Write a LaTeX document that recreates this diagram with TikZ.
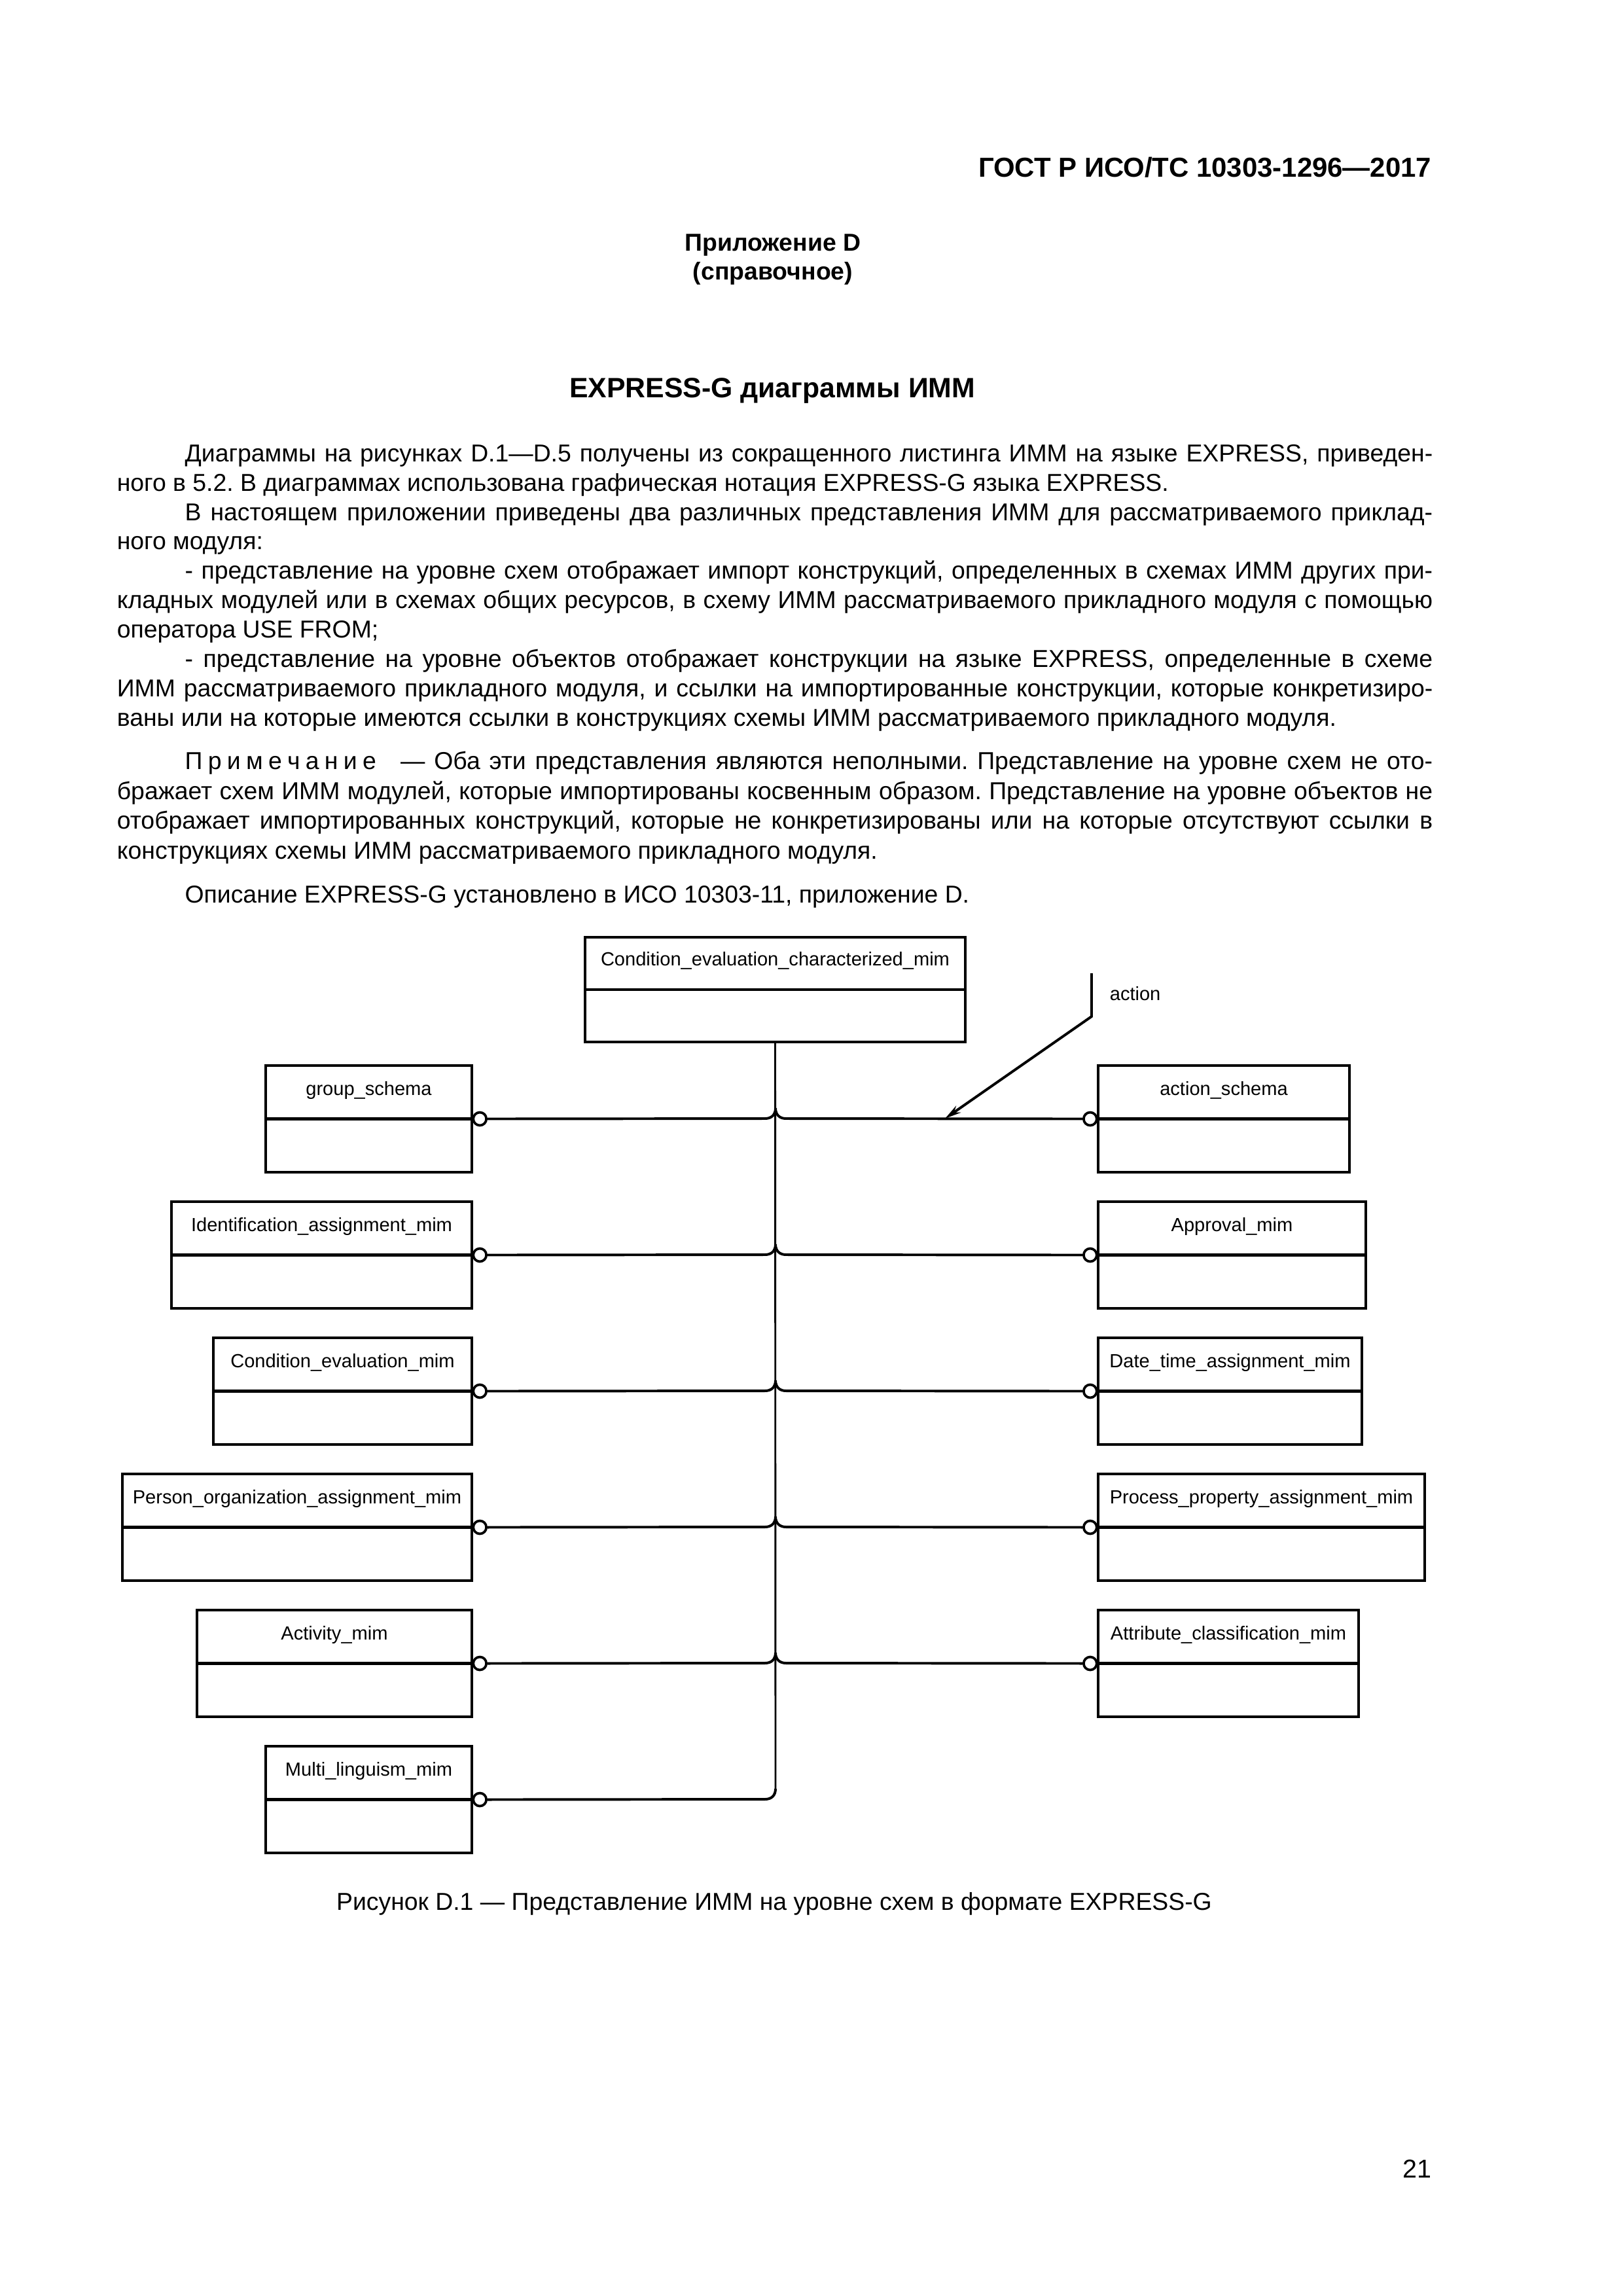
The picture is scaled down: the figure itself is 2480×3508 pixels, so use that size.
\documentclass[tikz,border=0pt]{standalone}
\usepackage{fontspec}
\setmainfont{Liberation Sans}
\frenchspacing
\usetikzlibrary{arrows.meta,calc,fit}

\tikzset{
  schemabox/.style={draw, line width=1.05pt, inner sep=0pt},
  divider/.style={line width=1.05pt},
  boxlabel/.style={anchor=base, inner sep=0pt, font=\fontsize{7pt}{8pt}\selectfont},
  ring/.style={draw, circle, line width=0.9pt, fill=white, minimum size=4.8pt, inner sep=0pt},
  link/.style={line width=0.95pt},
  trunkline/.style={line width=0.7pt},
  bodytext/.style={anchor=base west, inner sep=0pt, text width=484.3pt, align=justify},
  linehop/.style={insert path={-- ($(#1)+(-16,0)$) .. controls ($(#1)+(-6,0)$) and ($(#1)+(0,-6)$) .. ($(#1)+(0,-16)$) .. controls ($(#1)+(0,-6)$) and ($(#1)+(6,0)$) .. ($(#1)+(16,0)$)}}
}

\begin{document}
\begin{tikzpicture}[x=0.0846774mm, y=-0.0846774mm]
    \useasboundingbox[fill=white] (0,0) rectangle (2480,3508);
    % page head and text
    \node[anchor=base east, inner sep=0pt, font=\fontsize{10.1pt}{11pt}\selectfont\bfseries] (head) at (2188,270) {ГОСТ Р ИСО/ТС 10303-1296—2017};
    \node[anchor=base, inner sep=0pt, font=\fontsize{9pt}{10pt}\selectfont\bfseries] (annex) at (1181,383) {Приложение D};
    \node[anchor=base, inner sep=0pt, font=\fontsize{9pt}{10pt}\selectfont\bfseries] (annexkind) at (1181,427) {(справочное)};
    \node[anchor=base, inner sep=0pt, font=\fontsize{10.3pt}{12pt}\selectfont\bfseries] (title) at (1180,607) {EXPRESS-G диаграммы ИММ};
    \node[bodytext, font=\fontsize{9pt}{10.84pt}\selectfont] (intro) at (178,705) {\tolerance=9999\hyphenpenalty=10000
      \hspace*{25pt}Диаграммы на рисунках D.1—D.5 получены из сокращенного листинга ИММ на языке EXPRESS, приведен-\linebreak ного в 5.2. В диаграммах использована графическая нотация EXPRESS-G языка EXPRESS.\par
      \hspace*{25pt}В настоящем приложении приведены два различных представления ИММ для рассматриваемого приклад-\linebreak ного модуля:\par
      \hspace*{25pt}- представление на уровне схем отображает импорт конструкций, определенных в схемах ИММ других при-\linebreak кладных модулей или в схемах общих ресурсов, в схему ИММ рассматриваемого прикладного модуля с помощью \linebreak оператора USE FROM;\par
      \hspace*{25pt}- представление на уровне объектов отображает конструкции на языке EXPRESS, определенные в схеме \linebreak ИММ рассматриваемого прикладного модуля, и ссылки на импортированные конструкции, которые конкретизиро-\linebreak ваны или на которые имеются ссылки в конструкциях схемы ИММ рассматриваемого прикладного модуля.};
    \node[bodytext, font=\fontsize{9pt}{11.08pt}\selectfont] (note) at (178,1175) {\tolerance=9999\hyphenpenalty=10000
      \hspace*{25pt}П\kern2pt р\kern2pt и\kern2pt м\kern2pt е\kern2pt ч\kern2pt а\kern2pt н\kern2pt и\kern2pt е\hspace{9pt}— Оба эти представления являются неполными. Представление на уровне схем не ото-\linebreak бражает схем ИММ модулей, которые импортированы косвенным образом. Представление на уровне объектов не \linebreak отображает импортированных конструкций, которые не конкретизированы или на которые отсутствуют ссылки в \linebreak конструкциях схемы ИММ рассматриваемого прикладного модуля.};
    \node[bodytext, font=\fontsize{9pt}{10.84pt}\selectfont] (ref) at (178,1379) {\hspace*{25pt}Описание EXPRESS-G установлено в ИСО 10303-11, приложение D.};

    % rows of the schema level diagram
    \coordinate (r1) at (1185,1709);
    \coordinate (r2) at (1185,1917);
    \coordinate (r3) at (1185,2125);
    \coordinate (r4) at (1185,2333);
    \coordinate (r5) at (1185,2541);
    \coordinate (r6) at (1185,2749);

    % main schema
    \node[schemabox, fit={(894,1432) (1475,1592)}] (cecm) {};
    \draw[divider] (cecm.west) -- (cecm.east);
    \node[boxlabel] (cecml) at ($(cecm.north)+(0,46)$) {Condition\_evaluation\_characterized\_mim};

    % left column
    \node[schemabox, fit={(406,1628) (721,1791)}] (grp) {};
    \node[schemabox, fit={(262,1836) (721,1999)}] (iam) {};
    \node[schemabox, fit={(326,2044) (721,2207)}] (cem) {};
    \node[schemabox, fit={(187,2252) (721,2415)}] (poam) {};
    \node[schemabox, fit={(301,2460) (721,2623)}] (actm) {};
    \node[schemabox, fit={(406,2668) (721,2831)}] (mlm) {};
    \draw[divider] (grp.west) -- (grp.east);
    \draw[divider] (iam.west) -- (iam.east);
    \draw[divider] (cem.west) -- (cem.east);
    \draw[divider] (poam.west) -- (poam.east);
    \draw[divider] (actm.west) -- (actm.east);
    \draw[divider] (mlm.west) -- (mlm.east);
    \node[boxlabel] at ($(grp.north)+(0,48)$) {group\_schema};
    \node[boxlabel] at ($(iam.north)+(0,48)$) {Identification\_assignment\_mim};
    \node[boxlabel] at ($(cem.north)+(0,48)$) {Condition\_evaluation\_mim};
    \node[boxlabel] at ($(poam.north)+(0,48)$) {Person\_organization\_assignment\_mim};
    \node[boxlabel] at ($(actm.north)+(0,48)$) {Activity\_mim};
    \node[boxlabel] at ($(mlm.north)+(0,48)$) {Multi\_linguism\_mim};
    \node[ring] (grpc) at ($(grp.east)+(10,0)$) {};
    \node[ring] (iamc) at ($(iam.east)+(10,0)$) {};
    \node[ring] (cemc) at ($(cem.east)+(10,0)$) {};
    \node[ring] (poamc) at ($(poam.east)+(10,0)$) {};
    \node[ring] (actmc) at ($(actm.east)+(10,0)$) {};
    \node[ring] (mlmc) at ($(mlm.east)+(10,0)$) {};

    % right column
    \node[schemabox, fit={(1678,1628) (2062,1791)}] (acs) {};
    \node[schemabox, fit={(1678,1836) (2087,1999)}] (apm) {};
    \node[schemabox, fit={(1678,2044) (2081,2207)}] (dtam) {};
    \node[schemabox, fit={(1678,2252) (2177,2415)}] (ppam) {};
    \node[schemabox, fit={(1678,2460) (2076,2623)}] (acm) {};
    \draw[divider] (acs.west) -- (acs.east);
    \draw[divider] (apm.west) -- (apm.east);
    \draw[divider] (dtam.west) -- (dtam.east);
    \draw[divider] (ppam.west) -- (ppam.east);
    \draw[divider] (acm.west) -- (acm.east);
    \node[boxlabel] at ($(acs.north)+(0,48)$) {action\_schema};
    \node[boxlabel] at ($(apm.north)+(0,48)$) {Approval\_mim};
    \node[boxlabel] at ($(dtam.north)+(0,48)$) {Date\_time\_assignment\_mim};
    \node[boxlabel] at ($(ppam.north)+(0,48)$) {Process\_property\_assignment\_mim};
    \node[boxlabel] at ($(acm.north)+(0,48)$) {Attribute\_classification\_mim};
    \node[ring] (acsc) at ($(acs.west)+(-10,0)$) {};
    \node[ring] (apmc) at ($(apm.west)+(-10,0)$) {};
    \node[ring] (dtamc) at ($(dtam.west)+(-10,0)$) {};
    \node[ring] (ppamc) at ($(ppam.west)+(-10,0)$) {};
    \node[ring] (acmc) at ($(acm.west)+(-10,0)$) {};

    % trunk and USE FROM links
    \draw[trunkline] (cecm.south) -- ($(r6)+(0,-16)$);
    \draw[link] (grpc.east) [linehop=r1] -- (acsc.west);
    \draw[link] (iamc.east) [linehop=r2] -- (apmc.west);
    \draw[link] (cemc.east) [linehop=r3] -- (dtamc.west);
    \draw[link] (poamc.east) [linehop=r4] -- (ppamc.west);
    \draw[link] (actmc.east) [linehop=r5] -- (acmc.west);
    \draw[link] (mlmc.east) -- ($(r6)+(-16,0)$) .. controls ($(r6)+(-6,0)$) and ($(r6)+(0,-6)$) .. ($(r6)+(0,-16)$);

    % action reference
    \coordinate (actop) at (1668,1487);
    \coordinate (acbend) at (1668,1553);
    \coordinate (actip) at (1444,1709);
    \draw[link, -{Stealth[length=6pt,width=3pt]}] (actop) -- (acbend) -- (actip);
    \node[boxlabel, anchor=base west] (actl) at (1695,1528) {action};

    % caption and page number
    \node[anchor=base, inner sep=0pt, font=\fontsize{9pt}{10pt}\selectfont] (caption) at (1183,2918) {Рисунок D.1 — Представление ИММ на уровне схем в формате EXPRESS-G};
    \node[anchor=base east, inner sep=0pt, font=\fontsize{9.5pt}{11pt}\selectfont] (pageno) at (2188,3327) {21};
\end{tikzpicture}
\end{document}
